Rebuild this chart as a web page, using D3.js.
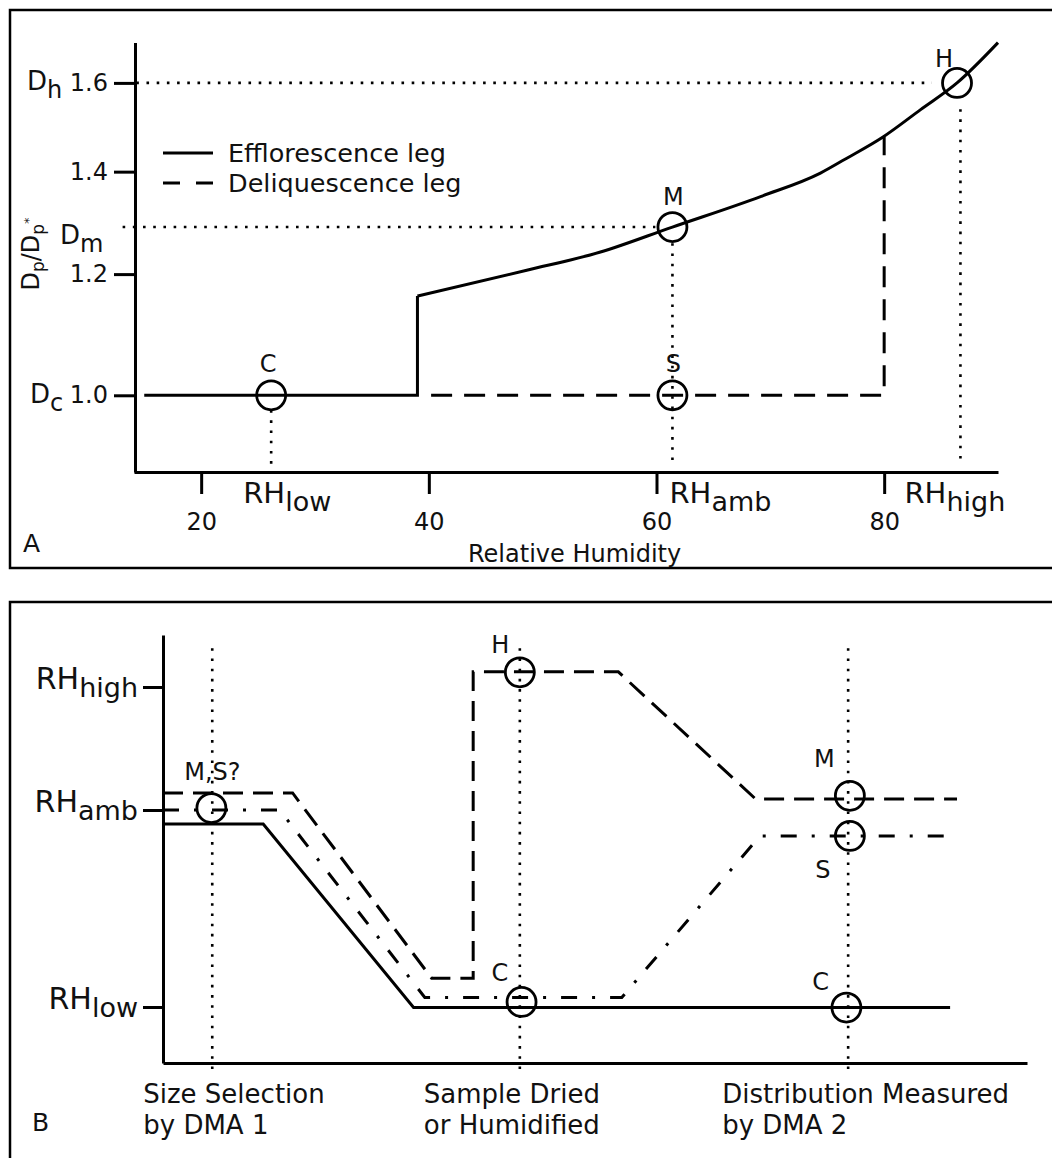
<!DOCTYPE html>
<html lang="en">
<head>
<meta charset="utf-8">
<title>Efflorescence and deliquescence schematic</title>
<script src="https://d3js.org/d3.v7.min.js"></script>
<style type="text/css">
body { margin: 0; background: #fff; }
svg text { font-family: "DejaVu Sans", sans-serif; fill: #111; }
</style>
</head>
<body>
<div id="chart"></div>
<script type="text/javascript">
// ---------- Panel A data: growth factor vs relative humidity ----------
var rhTicks = [20, 40, 60, 80];
var dpTicks = [1.0, 1.2, 1.4, 1.6];
// efflorescence leg: flat part and step
var stepRH = [15.0, 39.0, 39.0];
var stepDp = [1.0, 1.0, 1.161];
// efflorescence leg: smooth growth part
var growthRH = [39.0, 48.6, 55.0, 61.4, 69.2, 74.4, 76.6, 79.9, 83.2, 86.4, 90.0];
var growthDp = [1.161, 1.207, 1.240, 1.288, 1.349, 1.397, 1.427, 1.475, 1.537, 1.600, 1.700];
// deliquescence leg
var deliqRH = [40.2, 80.0, 80.0];
var deliqDp = [1.0, 1.0, 1.475];
// marked states
var pointNamesA = ["C", "S", "M", "H"];
var pointRHA = [26.15, 61.4, 61.4, 86.4];
var pointDpA = [1.0, 1.0, 1.288, 1.6];
// named diameters on the y axis
var diamNames = ["h", "m", "c"];
var diamValues = [1.6, 1.288, 1.0];
// named humidities on the x axis
var rhNamesA = ["low", "amb", "high"];
var rhValuesA = [26.15, 61.4, 86.7];
// dotted guides
var hGuideDp = [1.6, 1.288];
var hGuideFrom = [14.3, 13.1];
var hGuideTo = [84.2, 59.9];
var vGuideRH = [26.15, 61.4, 86.7];
var vGuideTop = [0.978, 1.257, 1.538];
var vGuideBottom = [0.90, 0.90, 0.903];

// ---------- Panel B data: humidity history through the instrument ----------
var stageNames = [["Size Selection", "by DMA 1"], ["Sample Dried", "or Humidified"], ["Distribution Measured", "by DMA 2"]];
var stageX = [5.7, 41.3, 79.3];
var rhLevelNames = ["low", "amb", "high"];
var rhLevels = [26, 61, 87];
// dashed path (humidified)
var humidX = [0, 15.0, 31.1, 35.9, 35.9, 52.7, 68.6, 91.9];
var humidRH = [64.6, 64.6, 31.1, 31.1, 90.2, 90.2, 63.3, 63.3];
// dash-dot path
var dryX = [0, 13.5, 30.3, 53.1, 69.1, 90.9];
var dryRH = [61, 61, 27.7, 27.7, 56.4, 56.4];
// solid path
var crystX = [0, 11.6, 29.0, 91.1];
var crystRH = [58.5, 58.5, 25.9, 25.9];
// marked states
var pointNamesB = ["M,S?", "H", "C", "M", "S", "C"];
var pointXB = [5.6, 41.3, 41.5, 79.5, 79.5, 79.1];
var pointRHB = [61.4, 90.1, 26.9, 64.0, 56.4, 25.9];

// ---------- layout ----------
var w = 1052, h = 1158;
var labelOffsetA = [[-3, -23], [1, -23.5], [1, -22], [-13, -16]];
var rhLabelDxA = [-28, -3, -56];
var diamLabelX = [27, 60, 30];
var diamLabelDy = [7.5, 17, 8];
var labelOffsetB = [[1, -28], [-19.5, -19.6], [-21.7, -20.7], [-25.5, -29.3], [-27, 42.3], [-25.7, -17.7]];
var stageLabelDx = [-69, -96, -126];
var dotted = "2.6,7.6";

var svg = d3.select("#chart").append("svg")
  .attr("width", w)
  .attr("height", h);

// panel frames
svg.append("rect").attr("x", 10).attr("y", 10).attr("width", 1100).attr("height", 558)
  .attr("fill", "none").attr("stroke", "#000").attr("stroke-width", 2.5);
svg.append("rect").attr("x", 10).attr("y", 602).attr("width", 1100).attr("height", 600)
  .attr("fill", "none").attr("stroke", "#000").attr("stroke-width", 2.5);

function subText(g, x, y, main, sub, mainSize, subSize, shift, anchor) {
  var t = g.append("text")
    .attr("x", x).attr("y", y)
    .attr("text-anchor", anchor || "start")
    .style("font-size", mainSize + "px");
  t.append("tspan").text(main);
  t.append("tspan").attr("dy", shift).style("font-size", subSize + "px").text(sub);
  return t;
}

function styleAxis(g) {
  g.selectAll("path, line").attr("stroke", "#000").attr("stroke-width", 3);
  g.selectAll("text").style("font-size", "24px");
}

// =================== Panel A ===================
var gA = svg.append("g");

var xA = d3.scaleLinear().domain([14.1, 90.0]).range([134, 998]);
var yA = d3.scaleLog().domain([0.891, 1.70]).range([472, 42.6]);

gA.append("g")
  .attr("transform", "translate(0,472)")
  .call(d3.axisBottom(xA).tickValues(rhTicks).tickSize(22).tickPadding(19).tickSizeOuter(0).tickFormat(d3.format("d")))
  .call(styleAxis);

gA.append("g")
  .attr("transform", "translate(135,0)")
  .call(d3.axisLeft(yA).tickValues(dpTicks).tickSize(21).tickPadding(6).tickSizeOuter(0).tickFormat(d3.format(".1f")))
  .call(styleAxis);

// dotted guides
hGuideDp.forEach(function (d, i) {
  gA.append("line")
    .attr("x1", xA(hGuideFrom[i])).attr("x2", xA(hGuideTo[i]))
    .attr("y1", yA(d)).attr("y2", yA(d))
    .attr("stroke", "#000").attr("stroke-width", 2.6).attr("stroke-dasharray", dotted);
});
vGuideRH.forEach(function (d, i) {
  gA.append("line")
    .attr("x1", xA(d)).attr("x2", xA(d))
    .attr("y1", yA(vGuideTop[i])).attr("y2", yA(vGuideBottom[i]))
    .attr("stroke", "#000").attr("stroke-width", 2.6).attr("stroke-dasharray", dotted);
});

var lineA = d3.line().x(function (d) { return xA(d[0]); }).y(function (d) { return yA(d[1]); });

gA.append("path")
  .attr("d", lineA(d3.zip(stepRH, stepDp)))
  .attr("fill", "none").attr("stroke", "#000").attr("stroke-width", 3);
gA.append("path")
  .attr("d", lineA.curve(d3.curveMonotoneX)(d3.zip(growthRH, growthDp)))
  .attr("fill", "none").attr("stroke", "#000").attr("stroke-width", 3);
lineA.curve(d3.curveLinear);
gA.append("path")
  .attr("d", lineA(d3.zip(deliqRH, deliqDp)))
  .attr("fill", "none").attr("stroke", "#000").attr("stroke-width", 3)
  .attr("stroke-dasharray", "21,12");

// state circles
pointNamesA.forEach(function (name, i) {
  var cx = xA(pointRHA[i]), cy = yA(pointDpA[i]);
  gA.append("circle").attr("cx", cx).attr("cy", cy).attr("r", 14.5)
    .attr("fill", "none").attr("stroke", "#000").attr("stroke-width", 2.8);
  gA.append("text")
    .attr("x", cx + labelOffsetA[i][0]).attr("y", cy + labelOffsetA[i][1])
    .attr("text-anchor", "middle").style("font-size", "24px").text(name);
});

// named diameters
diamNames.forEach(function (name, i) {
  subText(gA, diamLabelX[i], yA(diamValues[i]) + diamLabelDy[i], "D", name, 26, 24, 8);
});

// named humidities under the axis
rhNamesA.forEach(function (name, i) {
  subText(gA, xA(rhValuesA[i]) + rhLabelDxA[i], 503, "RH", name, 29, 27, 8);
});

// axis titles
gA.append("text").attr("x", 468).attr("y", 562).style("font-size", "24px").text("Relative Humidity");
var yTitle = gA.append("text")
  .attr("transform", "translate(39,254) rotate(-90)")
  .attr("text-anchor", "middle")
  .style("font-size", "24px");
yTitle.append("tspan").text("D");
yTitle.append("tspan").attr("dy", 5).style("font-size", "17px").text("p");
yTitle.append("tspan").attr("dy", -5).text("/D");
yTitle.append("tspan").attr("dy", 5).style("font-size", "17px").text("p");
yTitle.append("tspan").attr("dy", -11).style("font-size", "13px").text("*");

gA.append("text").attr("x", 23).attr("y", 552).style("font-size", "25px").text("A");

// legend
gA.append("line").attr("x1", 163).attr("x2", 213).attr("y1", 153).attr("y2", 153)
  .attr("stroke", "#000").attr("stroke-width", 3);
gA.append("line").attr("x1", 163).attr("x2", 213).attr("y1", 183).attr("y2", 183)
  .attr("stroke", "#000").attr("stroke-width", 3).attr("stroke-dasharray", "17,16");
gA.append("text").attr("x", 228).attr("y", 161.5).style("font-size", "25.5px").text("Efflorescence leg");
gA.append("text").attr("x", 228).attr("y", 192).style("font-size", "25.5px").text("Deliquescence leg");

// =================== Panel B ===================
var gB = svg.append("g");

var xB = d3.scaleLinear().domain([0, 100]).range([163, 1027]);
var yB = d3.scaleLinear().domain([16.05, 26, 61, 87, 98]).range([1063, 1007, 810, 687, 635]);

gB.append("g")
  .attr("transform", "translate(0,1063)")
  .call(d3.axisBottom(xB).tickValues([]).tickSizeOuter(0))
  .call(styleAxis);
gB.append("g")
  .attr("transform", "translate(163,0)")
  .call(d3.axisLeft(yB).tickValues(rhLevels).tickSize(20).tickSizeOuter(0).tickFormat(""))
  .call(styleAxis);

rhLevelNames.forEach(function (name, i) {
  subText(gB, 138, yB(rhLevels[i]) + 2, "RH", name, 30, 27, 8, "end");
});

// stage guides and labels
stageX.forEach(function (d, i) {
  gB.append("line")
    .attr("x1", xB(d)).attr("x2", xB(d))
    .attr("y1", yB(95.2)).attr("y2", yB(13.9))
    .attr("stroke", "#000").attr("stroke-width", 2.6).attr("stroke-dasharray", dotted);
  var t = gB.append("text").style("font-size", "26px");
  t.append("tspan").attr("x", xB(d) + stageLabelDx[i]).attr("y", 1103).text(stageNames[i][0]);
  t.append("tspan").attr("x", xB(d) + stageLabelDx[i]).attr("y", 1134).text(stageNames[i][1]);
});

var lineB = d3.line().x(function (d) { return xB(d[0]); }).y(function (d) { return yB(d[1]); });

gB.append("path")
  .attr("d", lineB(d3.zip(crystX, crystRH)))
  .attr("fill", "none").attr("stroke", "#000").attr("stroke-width", 3);
gB.append("path")
  .attr("d", lineB(d3.zip(dryX, dryRH)))
  .attr("fill", "none").attr("stroke", "#000").attr("stroke-width", 3)
  .attr("stroke-dasharray", "16,15,3,15");
gB.append("path")
  .attr("d", lineB(d3.zip(humidX, humidRH)))
  .attr("fill", "none").attr("stroke", "#000").attr("stroke-width", 3)
  .attr("stroke-dasharray", "20,10");

pointNamesB.forEach(function (name, i) {
  var cx = xB(pointXB[i]), cy = yB(pointRHB[i]);
  gB.append("circle").attr("cx", cx).attr("cy", cy).attr("r", 14.5)
    .attr("fill", "none").attr("stroke", "#000").attr("stroke-width", 2.8);
  gB.append("text")
    .attr("x", cx + labelOffsetB[i][0]).attr("y", cy + labelOffsetB[i][1])
    .attr("text-anchor", "middle").style("font-size", "24px").text(name);
});

gB.append("text").attr("x", 32).attr("y", 1131).style("font-size", "25px").text("B");
</script>
</body>
</html>
